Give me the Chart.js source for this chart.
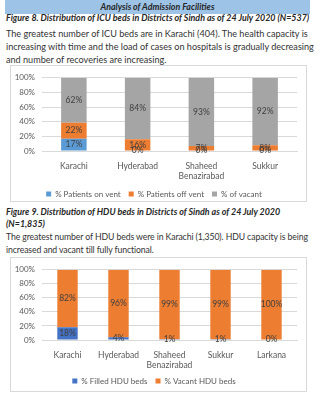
<!DOCTYPE html>
<html>
<head>
<meta charset="utf-8">
<script src="https://cdn.jsdelivr.net/npm/chart.js@4.4.1/dist/chart.umd.min.js"></script>
<style>
  html, body { margin: 0; padding: 0; background: #fff; }
  body { width: 325px; height: 400px; position: relative; overflow: hidden; font-family: Lato, "Open Sans", sans-serif; color: #262626; }
  .bar { position: absolute; left: 5px; top: 0; width: 305px; height: 14px; background: #9dc3e6;
         font-size: 8.8px; font-weight: bold; font-style: italic; text-align: center; line-height: 14px; }
  .fig { position: absolute; left: 6px; font-size: 8.9px; font-weight: bold; font-style: italic; line-height: 12px; white-space: nowrap; }
  .txt { position: absolute; left: 6px; font-size: 9.1px; line-height: 13px; color: #333; white-space: nowrap; }
  .box { position: absolute; left: 10px; width: 297px; border: 1px solid #d9d9d9; box-sizing: border-box; }
  .box canvas { display: block; }
</style>
</head>
<body>
<div class="bar">Analysis of Admission Facilities</div>
<div class="fig" style="top:12px">Figure 8. Distribution of ICU beds in Districts of Sindh as of 24 July 2020 (N=537)</div>
<div class="txt" style="top:27px">The greatest number of ICU beds are in Karachi (404). The health capacity is<br>increasing with time and the load of cases on hospitals is gradually decreasing<br>and number of recoveries are increasing.</div>
<div class="box" style="top:65px;height:137px"><canvas id="icuChart"></canvas></div>
<div class="fig" style="top:206px">Figure 9. Distribution of HDU beds in Districts of Sindh as of 24 July 2020<br>(N=1,835)</div>
<div class="txt" style="top:230px;font-size:8.7px;letter-spacing:-0.1px">The greatest number of HDU beds were in Karachi (1,350). HDU capacity is being<br>increased and vacant till fully functional.</div>
<div class="box" style="top:257px;height:135px"><canvas id="hduChart"></canvas></div>

<script>
/* ── Data ─────────────────────────────────────────────────── */
const icuDistricts = ['Karachi', 'Hyderabad', ['Shaheed', 'Benazirabad'], 'Sukkur'];
const icuOnVent    = [17, 0, 0, 0];
const icuOffVent   = [22, 16, 7, 8];
const icuVacant    = [62, 84, 93, 92];

const hduDistricts = ['Karachi', 'Hyderabad', ['Shaheed', 'Benazirabad'], 'Sukkur', 'Larkana'];
const hduFilled    = [18, 4, 1, 1, 0];
const hduVacant    = [82, 96, 99, 99, 100];

const yTicks = [0, 20, 40, 60, 80, 100];

/* ── Helpers ──────────────────────────────────────────────── */
const FONT = 'Lato, "Open Sans", sans-serif';
const AXIS = '#595959';
const GRID = '#d9d9d9';

// 100% stacked: scale each column to its own total, keep raw value for the label
function toShare(series, all) {
  return series.map((v, i) => {
    const total = all.reduce((s, arr) => s + arr[i], 0);
    return total ? v / total * 100 : 0;
  });
}

const barLabels = {
  id: 'barLabels',
  afterDatasetsDraw(chart) {
    const ctx = chart.ctx;
    ctx.save();
    ctx.font = '8.5px ' + FONT;
    ctx.fillStyle = '#404040';
    ctx.textAlign = 'center';
    ctx.textBaseline = 'middle';
    chart.data.datasets.forEach((ds, di) => {
      chart.getDatasetMeta(di).data.forEach((el, i) => {
        const y = el.base === el.y ? el.y - 1 : (el.y + el.base) / 2;
        ctx.fillText(ds.raw[i] + '%', el.x, y);
      });
    });
    ctx.restore();
  }
};

function makeChart(id, labels, sets, opts) {
  const all = sets.map(s => s.values);
  return new Chart(document.getElementById(id), {
    type: 'bar',
    data: {
      labels: labels,
      datasets: sets.map(s => ({
        label: s.label,
        data: toShare(s.values, all),
        raw: s.values,
        backgroundColor: s.color,
        borderWidth: 0,
        categoryPercentage: 1,
        barPercentage: 0.4
      }))
    },
    options: {
      responsive: true,
      maintainAspectRatio: false,
      animation: false,
      devicePixelRatio: 1,
      layout: { padding: { top: opts.top, right: 9, left: 0, bottom: opts.bottom } },
      plugins: {
        legend: {
          position: 'bottom',
          labels: { boxWidth: 5, boxHeight: 5, color: AXIS, font: { family: FONT, size: 8 }, padding: 8 }
        },
        tooltip: { enabled: false }
      },
      scales: {
        x: {
          stacked: true,
          grid: { display: false },
          border: { color: GRID },
          ticks: { color: AXIS, font: { family: FONT, size: 8.5 }, padding: 2, maxRotation: 0 },
          afterFit: s => { s.height = opts.xHeight; }
        },
        y: {
          stacked: true,
          min: 0, max: 100,
          afterBuildTicks: s => { s.ticks = yTicks.map(v => ({ value: v })); },
          grid: { color: GRID, drawTicks: false },
          border: { display: false },
          ticks: { color: AXIS, font: { family: FONT, size: 8 }, padding: 7, callback: v => v + '%' },
          afterFit: s => { s.width = 31; }
        }
      }
    },
    plugins: [barLabels]
  });
}

/* ── Figure 8: ICU beds ───────────────────────────────────── */
makeChart('icuChart', icuDistricts, [
  { label: '% Patients on vent',  values: icuOnVent,  color: '#5b9bd5' },
  { label: '% Patients off vent', values: icuOffVent, color: '#ed7d31' },
  { label: '% of vacant',         values: icuVacant,  color: '#a5a5a5' }
], { top: 7, bottom: -7, xHeight: 31 });

/* ── Figure 9: HDU beds ───────────────────────────────────── */
makeChart('hduChart', hduDistricts, [
  { label: '% Filled HDU beds', values: hduFilled, color: '#4472c4' },
  { label: '% Vacant HDU beds', values: hduVacant, color: '#ed7d31' }
], { top: 9, bottom: -4, xHeight: 29 });
</script>
</body>
</html>
